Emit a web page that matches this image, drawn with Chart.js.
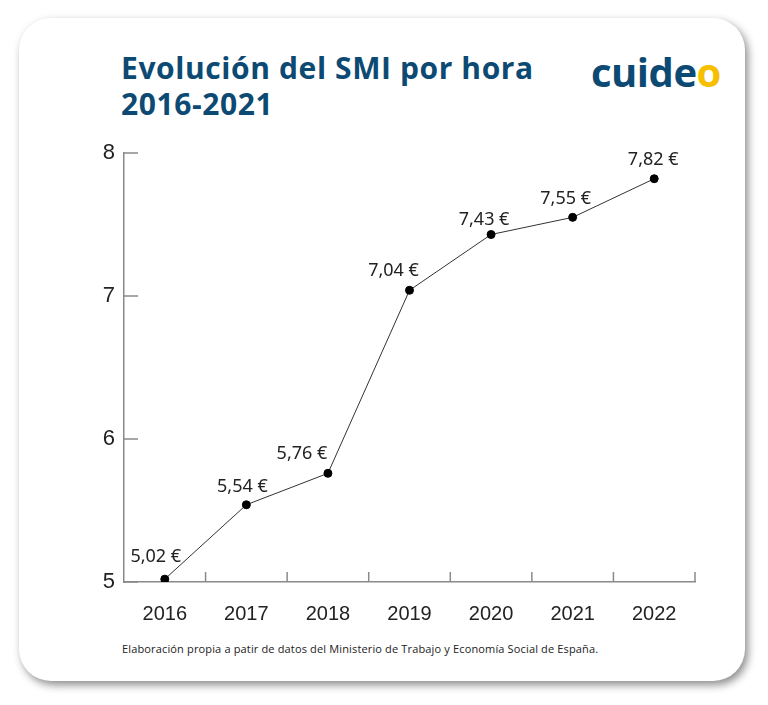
<!DOCTYPE html>
<html lang="es">
<head>
  <meta charset="UTF-8" />
  <title>Evolución del SMI por hora</title>
  <script src="https://cdn.jsdelivr.net/npm/chart.js"></script>
  <style>
    body {
      margin: 0;
      width: 768px;
      height: 705px;
      background: #fff;
      position: relative;
      overflow: hidden;
      font-family: "Open Sans", sans-serif;
    }
    .card {
      position: absolute;
      left: 19px;
      top: 18px;
      width: 726px;
      height: 663px;
      background: #fff;
      border-radius: 32px;
      box-shadow: 3px 4px 9px rgba(0, 0, 0, 0.45);
    }
    h1 {
      position: absolute;
      left: 121px;
      top: 50px;
      margin: 0;
      font-size: 30px;
      line-height: 36px;
      font-weight: 700;
      color: #0c4a73;
      letter-spacing: 0.6px;
    }
    .logo {
      position: absolute;
      left: 591px;
      top: 44px;
      font-size: 40px;
      font-weight: 700;
      color: #0c4a73;
      letter-spacing: -0.5px;
    }
    .logo span { color: #f6c000; }
    .note {
      position: absolute;
      left: 122px;
      top: 641px;
      font-size: 11px;
      letter-spacing: 0.15px;
      color: #222;
    }
    canvas {
      position: absolute;
      left: 0;
      top: 0;
    }
  </style>
</head>
<body>
  <div class="card"></div>
  <h1>Evolución del SMI por hora<br>2016-2021</h1>
  <div class="logo">cuide<span>o</span></div>
  <div class="note">Elaboración propia a patir de datos del Ministerio de Trabajo y Economía Social de España.</div>
  <canvas id="chart" width="768" height="705"></canvas>
  <script>
    const years = ["2016", "2017", "2018", "2019", "2020", "2021", "2022"];
    const smiHour = [5.02, 5.54, 5.76, 7.04, 7.43, 7.55, 7.82];
    const yTicks = [5, 6, 7, 8];
    // label nudges relative to each point (px)
    const labelShift = [[-9, -22], [-4, -18], [-26, -19], [-16, -19], [-7, -15], [-7, -18], [-1, -19]];

    const axisColor = "#8a8a8a";

    const extras = {
      id: "extras",
      afterDatasetsDraw(chart) {
        const c = chart.ctx;
        const x = chart.scales.x, y = chart.scales.y;
        const area = chart.chartArea;
        c.save();
        c.strokeStyle = axisColor;
        c.lineWidth = 1.5;
        // inward y ticks
        yTicks.forEach(v => {
          const py = y.getPixelForValue(v);
          c.beginPath();
          c.moveTo(area.left, py);
          c.lineTo(area.left + 14, py);
          c.stroke();
        });
        // x ticks between categories
        for (let i = 1; i <= years.length; i++) {
          const px = i < years.length
            ? (x.getPixelForValue(i - 1) + x.getPixelForValue(i)) / 2
            : area.right;
          c.beginPath();
          c.moveTo(px, area.bottom);
          c.lineTo(px, area.bottom - 10);
          c.stroke();
        }
        // value labels
        c.fillStyle = "#222";
        c.font = "18px 'Noto Sans'";
        c.textAlign = "center";
        c.textBaseline = "middle";
        const meta = chart.getDatasetMeta(0);
        meta.data.forEach((pt, i) => {
          const txt = smiHour[i].toFixed(2).replace(".", ",") + " €";
          c.fillText(txt, pt.x + labelShift[i][0], pt.y + labelShift[i][1]);
        });
        c.restore();
      }
    };

    new Chart(document.getElementById("chart"), {
      type: "line",
      data: {
        labels: years,
        datasets: [{
          data: smiHour,
          borderColor: "#333",
          borderWidth: 1,
          pointBackgroundColor: "#000",
          pointBorderColor: "#000",
          pointRadius: 4,
          tension: 0
        }]
      },
      options: {
        responsive: false,
        animation: false,
        layout: { padding: { left: 0, top: 153, right: 73, bottom: 0 } },
        plugins: { legend: { display: false }, tooltip: { enabled: false } },
        scales: {
          x: {
            offset: true,
            grid: { display: false },
            border: { display: true, color: axisColor, width: 1.5 },
            ticks: { color: "#222", font: { family: "Liberation Sans", size: 20 }, padding: 12 },
            afterFit: s => { s.height = 123; }
          },
          y: {
            min: 5,
            max: 8,
            afterBuildTicks: s => { s.ticks = yTicks.map(v => ({ value: v })); },
            grid: { display: false },
            border: { display: true, color: axisColor, width: 1.5 },
            ticks: { color: "#222", font: { family: "Liberation Sans", size: 22 }, padding: 1 },
            afterFit: s => { s.width = 124; }
          }
        }
      },
      plugins: [extras]
    });
  </script>
</body>
</html>
